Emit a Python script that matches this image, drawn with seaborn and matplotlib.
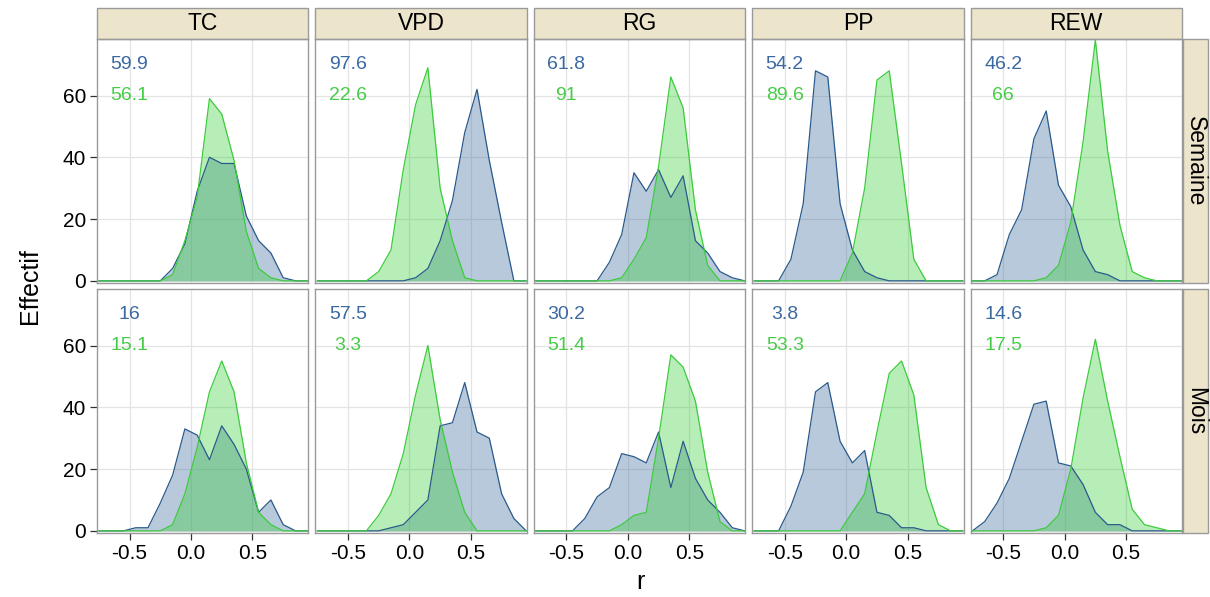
import matplotlib
matplotlib.use("Agg")
import matplotlib.pyplot as plt
from matplotlib.patches import Rectangle
import pandas as pd
import seaborn as sns

# Bin centres of the correlation coefficient r
r_centres = [-0.75, -0.65, -0.55, -0.45, -0.35, -0.25, -0.15, -0.05, 0.05,
             0.15, 0.25, 0.35, 0.45, 0.55, 0.65, 0.75, 0.85, 0.95]

variables = ["TC", "VPD", "RG", "PP", "REW"]
pas_de_temps = ["Semaine", "Mois"]

# Counts per bin, weekly time step
tc_sem_bleu = [0, 0, 0, 0, 0, 0, 4, 12, 29, 40, 38, 38, 21, 13, 9, 1, 0, 0]
tc_sem_vert = [0, 0, 0, 0, 0, 0, 2, 13, 27, 59, 54, 39, 16, 4, 1, 0, 0, 0]
vpd_sem_bleu = [0, 0, 0, 0, 0, 0, 0, 0, 1, 4, 13, 26, 48, 62, 39, 19, 0, 0]
vpd_sem_vert = [0, 0, 0, 0, 0, 3, 10, 36, 57, 69, 30, 13, 1, 0, 0, 0, 0, 0]
rg_sem_bleu = [0, 0, 0, 0, 0, 0, 6, 15, 35, 29, 36, 27, 34, 13, 9, 3, 1, 0]
rg_sem_vert = [0, 0, 0, 0, 0, 0, 0, 1, 7, 14, 37, 66, 56, 23, 5, 0, 0, 0]
pp_sem_bleu = [0, 0, 0, 7, 25, 68, 66, 25, 10, 3, 1, 0, 0, 0, 0, 0, 0, 0]
pp_sem_vert = [0, 0, 0, 0, 0, 0, 0, 0, 9, 30, 65, 68, 38, 7, 0, 0, 0, 0]
rew_sem_bleu = [0, 0, 2, 15, 23, 46, 55, 31, 24, 10, 3, 2, 0, 0, 0, 0, 0, 0]
rew_sem_vert = [0, 0, 0, 0, 0, 0, 1, 5, 19, 45, 78, 42, 18, 3, 1, 0, 0, 0]

# Counts per bin, monthly time step
tc_mois_bleu = [0, 0, 0, 1, 1, 9, 18, 33, 31, 23, 34, 28, 20, 6, 10, 2, 0, 0]
tc_mois_vert = [0, 0, 0, 0, 0, 0, 2, 12, 27, 45, 55, 45, 22, 6, 2, 0, 0, 0]
vpd_mois_bleu = [0, 0, 0, 0, 0, 0, 1, 2, 6, 10, 34, 35, 48, 32, 30, 12, 4, 0]
vpd_mois_vert = [0, 0, 0, 0, 0, 5, 12, 25, 44, 60, 36, 19, 6, 0, 0, 0, 0, 0]
rg_mois_bleu = [0, 0, 0, 0, 4, 11, 14, 25, 24, 22, 32, 14, 29, 17, 10, 6, 1, 0]
rg_mois_vert = [0, 0, 0, 0, 0, 0, 0, 2, 5, 6, 30, 57, 53, 42, 19, 3, 0, 0]
pp_mois_bleu = [0, 0, 0, 8, 19, 45, 48, 29, 22, 26, 6, 5, 1, 1, 0, 0, 0, 0]
pp_mois_vert = [0, 0, 0, 0, 0, 0, 0, 0, 6, 12, 32, 51, 55, 44, 14, 2, 0, 0]
rew_mois_bleu = [0, 3, 9, 17, 29, 41, 42, 22, 21, 15, 6, 2, 2, 0, 0, 0, 0, 0]
rew_mois_vert = [0, 0, 0, 0, 0, 0, 1, 5, 20, 43, 62, 42, 24, 7, 2, 1, 0, 0]

# Percentages printed in each panel
pct_sem_bleu = ["59.9", "97.6", "61.8", "54.2", "46.2"]
pct_sem_vert = ["56.1", "22.6", "91", "89.6", "66"]
pct_mois_bleu = ["16", "57.5", "30.2", "3.8", "14.6"]
pct_mois_vert = ["15.1", "3.3", "51.4", "53.3", "17.5"]

x_ticks = [-0.5, 0.0, 0.5]
x_tick_labels = ["-0.5", "0.0", "0.5"]
y_ticks = [0, 20, 40, 60]

comptes = {
    "Semaine": {
        "TC": (tc_sem_bleu, tc_sem_vert), "VPD": (vpd_sem_bleu, vpd_sem_vert),
        "RG": (rg_sem_bleu, rg_sem_vert), "PP": (pp_sem_bleu, pp_sem_vert),
        "REW": (rew_sem_bleu, rew_sem_vert),
    },
    "Mois": {
        "TC": (tc_mois_bleu, tc_mois_vert), "VPD": (vpd_mois_bleu, vpd_mois_vert),
        "RG": (rg_mois_bleu, rg_mois_vert), "PP": (pp_mois_bleu, pp_mois_vert),
        "REW": (rew_mois_bleu, rew_mois_vert),
    },
}
pourcentages = {
    "Semaine": (pct_sem_bleu, pct_sem_vert),
    "Mois": (pct_mois_bleu, pct_mois_vert),
}

rows = []
for periode in pas_de_temps:
    for var in variables:
        bleu, vert = comptes[periode][var]
        for r, n in zip(r_centres, bleu):
            rows.append((periode, var, "bleu", r, n))
        for r, n in zip(r_centres, vert):
            rows.append((periode, var, "vert", r, n))
df = pd.DataFrame(rows, columns=["periode", "variable", "groupe", "r", "effectif"])

sns.set_theme(style="whitegrid")
plt.rcParams["font.family"] = ["Liberation Sans", "DejaVu Sans"]

fill_col = {"bleu": "#336699", "vert": "#32CD32"}
line_col = {"bleu": "#2A5A8C", "vert": "#3CCB3C"}
text_col = {"bleu": "#3A68A0", "vert": "#46CC46"}
strip_col = "#ECE5CB"
border_col = "#9A9A9A"

fig = plt.figure(figsize=(12.1, 5.97), dpi=100)
axes = fig.subplots(
    2, 5, sharex=True, sharey=True,
    gridspec_kw=dict(left=97 / 1210, right=1182 / 1210, top=1 - 39 / 597,
                     bottom=1 - 533 / 597, wspace=7 / 211, hspace=6 / 244),
)

strip_h = 31 / 244
strip_w = 25 / 211

for i, periode in enumerate(pas_de_temps):
    for j, var in enumerate(variables):
        ax = axes[i, j]
        sub = df[(df.periode == periode) & (df.variable == var)]
        for g in ["bleu", "vert"]:
            d = sub[sub.groupe == g]
            ax.fill_between(d["r"], 0, d["effectif"], color=fill_col[g],
                            alpha=0.35, linewidth=0, zorder=2)
            sns.lineplot(data=d, x="r", y="effectif", ax=ax, color=line_col[g],
                         linewidth=0.9, estimator=None, sort=False, zorder=3)
        pb, pv = pourcentages[periode]
        ax.text(-0.5, 70, pb[j], color=text_col["bleu"], ha="center",
                va="center", fontsize=14, zorder=4)
        ax.text(-0.5, 60, pv[j], color=text_col["vert"], ha="center",
                va="center", fontsize=14, zorder=4)

        ax.set_xlim(-0.765, 0.955)
        ax.set_ylim(-0.7, 78.3)
        ax.set_xticks(x_ticks)
        ax.set_yticks(y_ticks)
        ax.grid(True, color="#E4E4E4", linewidth=0.9)
        ax.set_axisbelow(True)
        ax.set_facecolor("white")
        for s in ax.spines.values():
            s.set_color(border_col)
            s.set_linewidth(1.0)
        ax.set_xlabel("")
        ax.set_ylabel("")
        ax.tick_params(axis="both", which="both", length=0, labelsize=15,
                       labelcolor="black", colors="#333333")
        if j == 0:
            ax.tick_params(axis="y", length=5, width=0.9, pad=3, left=True)
        if i == 1:
            ax.tick_params(axis="x", length=5, width=0.9, pad=3, bottom=True)
            ax.set_xticklabels(x_tick_labels)

        if i == 0:
            ax.add_patch(Rectangle((0, 1), 1, strip_h, transform=ax.transAxes,
                                   clip_on=False, facecolor=strip_col,
                                   edgecolor=border_col, linewidth=1.0))
            ax.text(0.5, 1 + strip_h / 2, var, transform=ax.transAxes,
                    ha="center", va="center", fontsize=16.5, color="black")
        if j == len(variables) - 1:
            ax.add_patch(Rectangle((1.004, 0), strip_w, 1, transform=ax.transAxes,
                                   clip_on=False, facecolor=strip_col,
                                   edgecolor=border_col, linewidth=1.0))
            ax.text(1.004 + strip_w / 2, 0.5, periode, transform=ax.transAxes,
                    ha="center", va="center", rotation=-90, fontsize=16.5,
                    color="black")

fig.text(30 / 1210, 1 - 286 / 597, "Effectif", rotation=90, ha="center",
         va="center", fontsize=18, color="black")
fig.text(640 / 1210, 1 - 582 / 597, "r", ha="center", va="center",
         fontsize=18, color="black")

fig.savefig("out.png", dpi=100)
